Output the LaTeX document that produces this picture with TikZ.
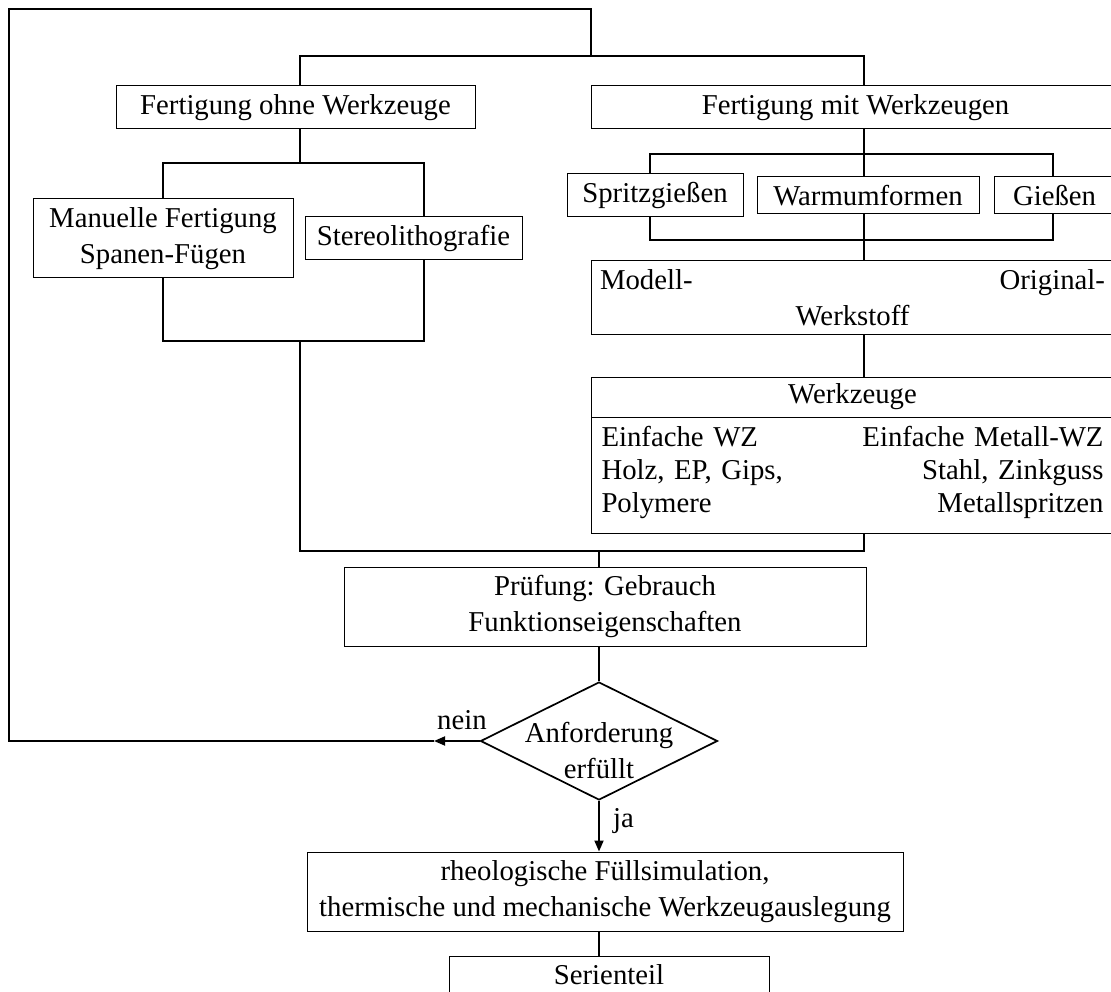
\documentclass[tikz,border=0pt]{standalone}
\usepackage{fontspec}
\setmainfont{Liberation Serif}
\usetikzlibrary{shapes.geometric,arrows.meta}
\begin{document}
\begin{tikzpicture}[x=1pt,y=-1pt,
  every node/.style={font=\fontsize{28.75}{36}\selectfont, inner sep=0pt},
  box/.style={draw, line width=1pt, rectangle},
  conn/.style={line width=1.8pt},
  arr/.style={conn, -{Triangle[length=11pt,width=9pt]}},
  decision/.style={draw, diamond, line width=1.7pt, inner sep=0pt},
]
\useasboundingbox (0,0) rectangle (1111,992);

% boxes
\node[box, minimum width=359pt, minimum height=43pt] (f1) at (295.5,107.5) {Fertigung ohne Werkzeuge};
\node[box, minimum width=529pt, minimum height=43pt] (f2) at (855.5,107.5) {Fertigung mit Werkzeugen};
\node[box, align=center, minimum width=260pt, minimum height=79pt] (man) at (163,238.5) {Manuelle Fertigung\\Spanen-Fügen};
\node[box, minimum width=217pt, minimum height=43pt] (ste) at (413.5,238.5) {Stereolithografie};
\node[box, minimum width=176pt, minimum height=43pt] (spr) at (655,195.5) {Spritzgießen};
\node[box, minimum width=222pt, minimum height=37pt] (war) at (868,195.5) {Warmumformen};
\node[box, minimum width=121pt, minimum height=37pt] (gie) at (1054.5,195.5) {Gießen};
\node[box, align=center, text width=505pt, minimum width=523pt, minimum height=73pt] (mod) at (852.5,297.5) {Modell-\hfill Original-\\Werkstoff};
\node[box, minimum width=523pt, minimum height=40pt] (wzh) at (852.5,397) {Werkzeuge};
\node[box, align=left, text width=502pt, minimum width=523pt, minimum height=116pt,
      font=\fontsize{28.75}{33}\selectfont] (wzb) at (852.5,475)
  {Einfache WZ\hfill Einfache Metall-WZ\\Holz, EP, Gips,\hfill Stahl, Zinkguss\\Polymere\hfill Metallspritzen\rule[-12pt]{0pt}{0pt}};
\node[box, align=center, minimum width=522pt, minimum height=79pt] (pr) at (605,606.5) {Prüfung: Gebrauch\\Funktionseigenschaften};
\node[decision, minimum width=237pt, minimum height=118pt] (dia) at (599,741) {};
\node[align=center] (dtx) at (599,751) {Anforderung\\erfüllt};
\node[box, align=center, minimum width=596pt, minimum height=79pt] (rh) at (605,891.5) {rheologische Füllsimulation,\\thermische und mechanische Werkzeugauslegung};
\node[box, minimum width=320pt, minimum height=38pt] (se) at (609,975) {Serienteil};

% labels
\node[anchor=base west] (nein) at (437,729) {nein};
\node[anchor=base west] (ja) at (613,827) {ja};

% junction coordinates
\coordinate (j1) at (300,56);  \coordinate (j2) at (864,56);
\coordinate (np) at (434,741); \coordinate (l1) at (9,741);
\coordinate (l2) at (9,9);     \coordinate (l3) at (591,9); \coordinate (l4) at (591,56);
\coordinate (a1) at (300,163); \coordinate (a2) at (163,163); \coordinate (a3) at (424,163);
\coordinate (b1) at (300,341); \coordinate (b2) at (163,341); \coordinate (b3) at (424,341);
\coordinate (d1) at (864,154); \coordinate (d2) at (650,154); \coordinate (d3) at (1053,154);
\coordinate (e1) at (864,240); \coordinate (e2) at (650,240); \coordinate (e3) at (1053,240);
\coordinate (c1) at (300,551); \coordinate (c2) at (864,551); \coordinate (c3) at (599,551);

% connectors
\draw[conn] (f1.north -| j1) -- (j1) -- (j2) -- (f2.north -| j2);
\draw[arr] (dia.west) -- (np);
\draw[conn] (np) -- (l1) -- (l2) -- (l3) -- (l4);

\draw[conn] (f1.south -| a1) -- (a1);
\draw[conn] (man.north -| a2) -- (a2) -- (a3) -- (ste.north -| a3);
\draw[conn] (man.south -| b2) -- (b2) -- (b3) -- (ste.south -| b3);
\draw[conn] (b1) -- (c1) -- (c2) -- (wzb.south -| c2);
\draw[conn] (c3) -- (pr.north -| c3);

\draw[conn] (f2.south -| d1) -- (d1);
\draw[conn] (spr.north -| d2) -- (d2) -- (d3) -- (gie.north -| d3);
\draw[conn] (d1) -- (war.north -| d1);
\draw[conn] (spr.south -| e2) -- (e2) -- (e3) -- (gie.south -| e3);
\draw[conn] (war.south -| e1) -- (mod.north -| e1);
\draw[conn] (mod.south -| e1) -- (wzh.north -| e1);

\draw[conn] (pr.south -| dia.north) -- (dia.north);
\draw[arr] (dia.south) -- (rh.north -| dia.south);
\draw[conn] (rh.south -| dia.south) -- (se.north -| dia.south);
\end{tikzpicture}
\end{document}
